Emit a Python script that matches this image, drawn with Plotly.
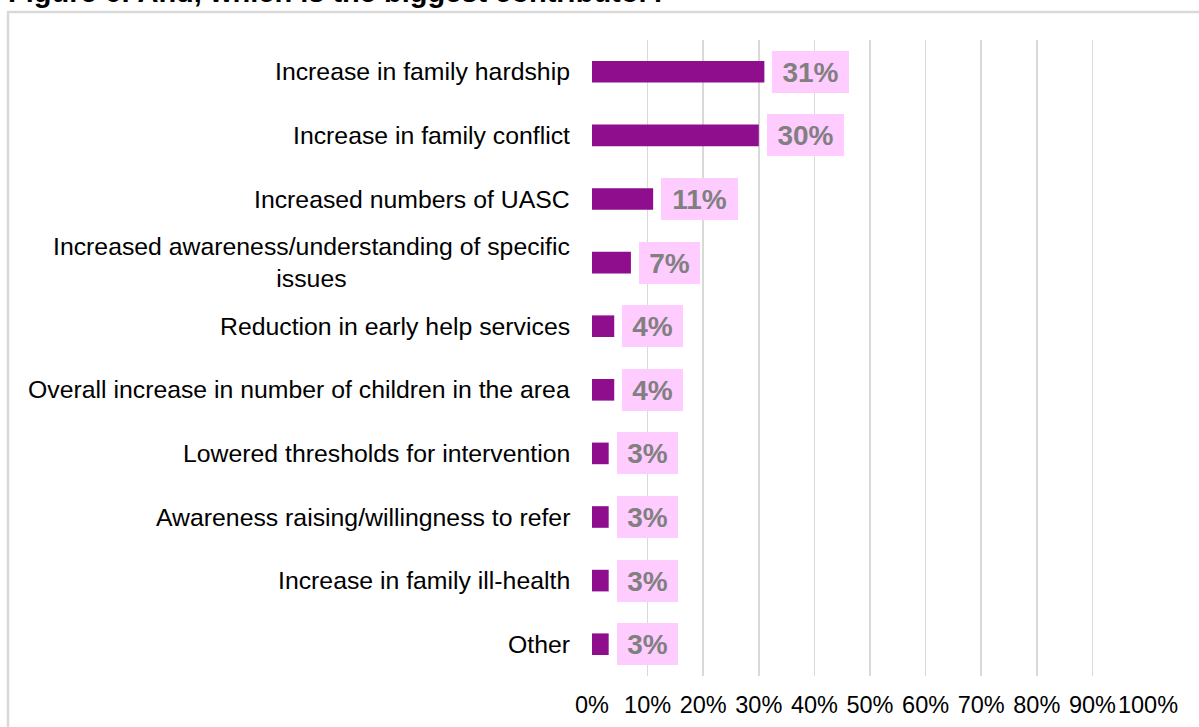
import plotly.graph_objects as go

categories = [
    "Increase in family hardship",
    "Increase in family conflict",
    "Increased numbers of UASC",
    "Increased awareness/understanding of specific<br>issues",
    "Reduction in early help services",
    "Overall increase in number of children in the area",
    "Lowered thresholds for intervention",
    "Awareness raising/willingness to refer",
    "Increase in family ill-health",
    "Other",
]
values = [31, 30, 11, 7, 4, 4, 3, 3, 3, 3]
x_tickvals = [0, 10, 20, 30, 40, 50, 60, 70, 80, 90, 100]
x_ticktext = ["0%", "10%", "20%", "30%", "40%", "50%", "60%", "70%", "80%", "90%", "100%"]
title_text = "Figure 6: And, which is the biggest contributor?"

W, H = 1199, 727
L, R, T, B = 592, 51, 40, 51
PW, PH = W - L - R, H - T - B

FONT = "Liberation Sans, Arial, sans-serif"
BAR = "#8E0E8E"
PINK = "#FFCCFF"
GRID = "#D9D9D9"

fig = go.Figure()
fig.add_trace(go.Bar(
    x=values, y=categories, orientation="h",
    marker=dict(color=BAR, line=dict(width=0)),
    width=0.34, hoverinfo="skip",
))

annotations = []
# category labels (centered multi-line)
for c in categories:
    annotations.append(dict(
        x=0, xref="paper", y=c, yref="y", xanchor="right", yanchor="middle",
        xshift=-20, text=c, showarrow=False, align="center",
        font=dict(family=FONT, size=24.8, color="#000000"),
    ))
# value labels
for c, v in zip(categories, values):
    t = f"{v}%"
    annotations.append(dict(
        x=v, xref="x", y=c, yref="y", xanchor="left", yanchor="middle",
        xshift=8, text=f"<b>{t}</b>", showarrow=False, align="center",
        bgcolor=PINK, borderpad=0, borderwidth=0,
        width=61 if len(t) == 2 else 77, height=42,
        font=dict(family=FONT, size=28, color="#808080"),
    ))
# cut-off figure caption at top
annotations.append(dict(
    x=(6 - L) / PW, xref="paper", y=1 + (T + 8) / PH, yref="paper",
    xanchor="left", yanchor="middle", text=f"<b>{title_text}</b>",
    showarrow=False, font=dict(family=FONT, size=29, color="#000000"),
))

fig.update_layout(
    width=W, height=H,
    margin=dict(l=L, r=R, t=T, b=B, pad=0, autoexpand=False),
    paper_bgcolor="white", plot_bgcolor="white",
    showlegend=False,
    bargap=0.66,
    annotations=annotations,
    shapes=[dict(
        type="rect", xref="paper", yref="paper",
        x0=(8 - L) / PW, x1=(W + 40 - L) / PW,
        y0=-(B + 40) / PH, y1=1 + (T - 12) / PH,
        line=dict(color=GRID, width=2.5), fillcolor="rgba(0,0,0,0)", layer="below",
    )],
    xaxis=dict(
        range=[0, 100], tickvals=x_tickvals, ticktext=x_ticktext,
        showgrid=True, gridcolor=GRID, gridwidth=1.5, zeroline=False,
        showline=False, ticks="", tickangle=0, ticklabelstandoff=12,
        tickfont=dict(family=FONT, size=23.5, color="#000000"),
        fixedrange=True, automargin=False,
    ),
    yaxis=dict(
        categoryorder="array", categoryarray=categories, autorange="reversed",
        showticklabels=False, showgrid=False, zeroline=False, showline=False,
        ticks="", fixedrange=True, automargin=False,
    ),
)

fig.write_html(
    "out.html",
    config={"displayModeBar": False, "staticPlot": True},
    post_script="document.body.style.margin='0';document.body.style.overflow='hidden';",
)
